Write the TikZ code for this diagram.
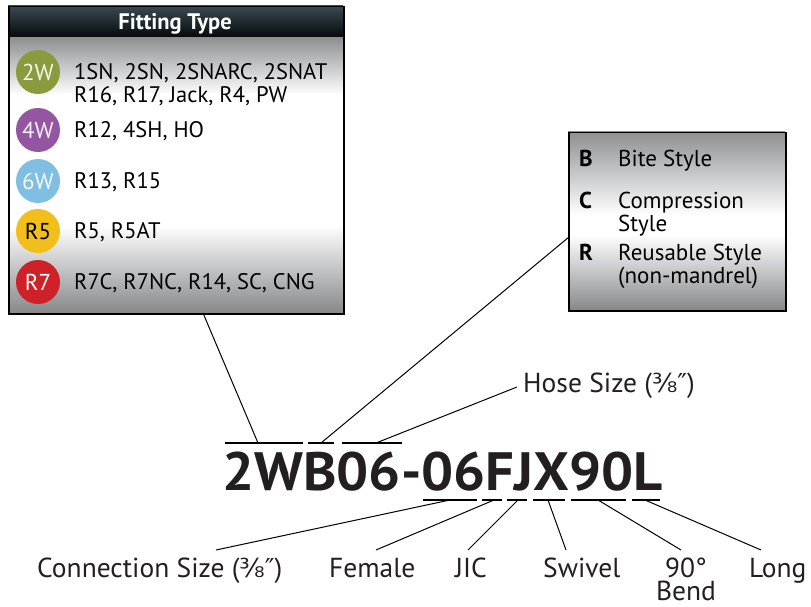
\documentclass[tikz,border=0pt]{standalone}
\usepackage{fontspec}
\usepackage{graphicx}
\setmainfont{PT Sans}
\newfontfamily\djv{DejaVu Sans}
\usetikzlibrary{calc}
\definecolor{ptop}{HTML}{8E9092}
\definecolor{pbot}{HTML}{86888A}
\definecolor{htop}{HTML}{3A4A52}
\definecolor{hbot}{HTML}{03080A}
\definecolor{ctwo}{HTML}{8A9B3E}
\definecolor{cfour}{HTML}{9456A1}
\definecolor{csix}{HTML}{80BEE2}
\definecolor{cfive}{HTML}{F2BF1A}
\definecolor{cseven}{HTML}{CF2128}
\definecolor{ink}{HTML}{231F20}
\newcommand\fracsize{{\djv\scalebox{0.95}{⅜″}}}
\tikzset{
  itemtext/.style={anchor=base west, inner sep=0pt, font=\fontsize{22.5}{22.5}\selectfont},
  keytext/.style={anchor=base west, inner sep=0pt, font=\fontsize{23}{23}\selectfont},
  keyletter/.style={anchor=base west, inner sep=0pt, font=\fontsize{23}{23}\selectfont\bfseries},
  label/.style={anchor=base west, inner sep=0pt, font=\fontsize{27.5}{27.5}\selectfont, text=ink},
  badge/.style={circle, minimum size=44pt, inner sep=0pt, font=\fontsize{23}{23}\selectfont},
  conn/.style={line width=1pt, black},
  bar/.style={line width=1.3pt, black}
}
\begin{document}
\begin{tikzpicture}[x=1pt,y=-1pt]
\useasboundingbox (0,0) rectangle (811,607);
% Fitting type box
\shade[top color=htop, bottom color=hbot] (8,6) rectangle (343,38);
\shade[top color=ptop, bottom color=white] (8,38) rectangle (343,95);
\fill[white] (8,94.5) rectangle (343,225.5);
\shade[top color=white, bottom color=pbot] (8,225) rectangle (343,313);
\node[draw, line width=1.5pt, minimum width=335pt, minimum height=307pt, inner sep=0pt, anchor=north west] (box1) at (8,6) {};
\node[anchor=base, inner sep=0pt, text=white, font=\fontsize{22.5}{22.5}\selectfont\bfseries] (title) at (175,30) {Fitting Type};
\node[badge, fill=ctwo, text=white!90!ctwo] (b2w) at (38,72) {2W};
\node[badge, fill=cfour, text=white!90!cfour] (b4w) at (38,130) {4W};
\node[badge, fill=csix, text=white!90!csix] (b6w) at (38,181) {6W};
\node[badge, fill=cfive, text=black] (br5) at (38,231) {R5};
\node[badge, fill=cseven, text=white] (br7) at (38,282) {R7};
\node[itemtext] (t2a) at (74,80) {1SN, 2SN, 2SNARC, 2SNAT};
\node[itemtext] (t2b) at (74,103) {R16, R17, Jack, R4, PW};
\node[itemtext] (t4) at (74,138) {R12, 4SH, HO};
\node[itemtext] (t6) at (74,188) {R13, R15};
\node[itemtext] (t5) at (74,238) {R5, R5AT};
\node[itemtext] (t7) at (74,289) {R7C, R7NC, R14, SC, CNG};
% Style box
\shade[top color=ptop, bottom color=white] (568,132) rectangle (785,215);
\fill[white] (568,214.5) rectangle (785,235.5);
\shade[top color=white, bottom color=pbot] (568,235) rectangle (785,310);
\node[draw, line width=1.5pt, minimum width=217pt, minimum height=178pt, inner sep=0pt, anchor=north west] (box2) at (568,132) {};
\node[keyletter] (kb) at (579,167) {B};
\node[keytext] (kbt) at (618,167) {Bite Style};
\node[keyletter] (kc) at (579,208) {C};
\node[keytext] (kct) at (618,208) {Compression};
\node[keytext] (kct2) at (618,231) {Style};
\node[keyletter] (kr) at (579,260) {R};
\node[keytext] (krt) at (618,260) {Reusable Style};
\node[keytext] (krt2) at (618,283) {(non-mandrel)};
% code
\node[anchor=base west, inner sep=0pt, font=\fontsize{54}{54}\selectfont\bfseries, text=ink] (code) at (222,490) {\scalebox{1.05}[1]{2WB06-06FJX90L}};
% overlines
\coordinate (o1a) at (225,443); \coordinate (o1b) at (303,443);
\coordinate (o2a) at (308,443); \coordinate (o2b) at (334,443);
\coordinate (o3a) at (342,443); \coordinate (o3b) at (402,443);
\draw[bar] (o1a) -- (o1b); \draw[bar] (o2a) -- (o2b); \draw[bar] (o3a) -- (o3b);
% underlines
\coordinate (u1a) at (423,500); \coordinate (u1b) at (477,500);
\coordinate (u2a) at (482,500); \coordinate (u2b) at (502,500);
\coordinate (u3a) at (507,500); \coordinate (u3b) at (527,500);
\coordinate (u4a) at (533,500); \coordinate (u4b) at (565,500);
\coordinate (u5a) at (571,500); \coordinate (u5b) at (626,500);
\coordinate (u6a) at (632,500); \coordinate (u6b) at (660,500);
\foreach \i in {1,...,6} {\draw[bar] (u\i a) -- (u\i b);}
% labels
\node[label] (hose) at (523,392) {Hose Size (\fracsize)};
\node[label] (lconn) at (37,577) {Connection Size (\fracsize)};
\node[label] (lfem) at (329,577) {Female};
\node[label] (ljic) at (455,577) {JIC};
\node[label] (lswi) at (543,577) {Swivel};
\node[label, anchor=north, align=center, font=\fontsize{27.5}{23}\selectfont] (l90) at (686,557.5) {90°\\Bend};
\node[label] (llong) at (749,577) {Long};
% connector anchors
\coordinate (p1) at (258,443); \coordinate (q1) at (203,313);
\coordinate (p2) at (321,443); \coordinate (q2) at (569,237);
\coordinate (p3) at (376,443); \coordinate (q3) at (517,387);
\coordinate (d1) at (450,500); \coordinate (e1) at (216,550);
\coordinate (d2) at (494,500); \coordinate (e2) at (376,550);
\coordinate (d3) at (518,500); \coordinate (e3) at (468,550);
\coordinate (d4) at (548,500); \coordinate (e4) at (566,550);
\coordinate (d5) at (598,500); \coordinate (e5) at (681,550);
\coordinate (d6) at (645,500); \coordinate (e6) at (761,550);
\draw[conn] (p1) -- (q1);
\draw[conn] (p2) -- (q2);
\draw[conn] (p3) -- (q3);
\foreach \i in {1,...,6} {\draw[conn] (d\i) -- (e\i);}
\end{tikzpicture}
\end{document}
